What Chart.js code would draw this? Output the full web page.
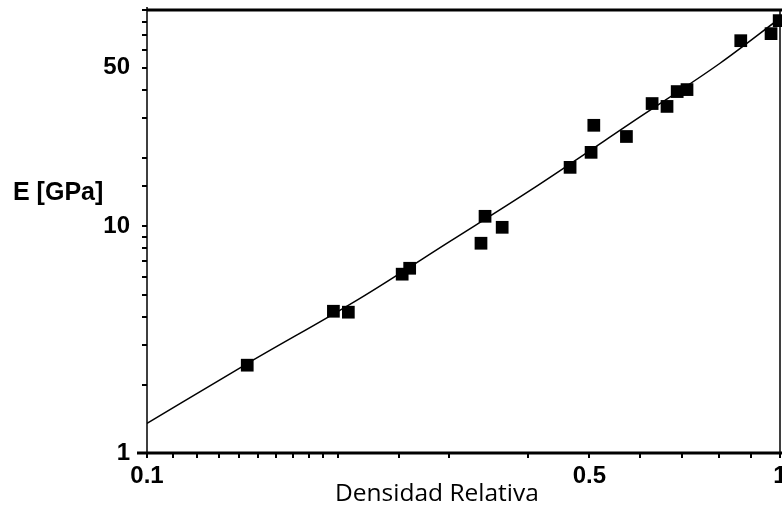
<!DOCTYPE html>
<html>
<head>
<meta charset="utf-8">
<title>E vs Densidad Relativa</title>
<script src="https://cdn.jsdelivr.net/npm/chart.js@4.4.1/dist/chart.umd.min.js"></script>
<style>
  html, body { margin: 0; padding: 0; background: #fff; }
  #chart-box { width: 782px; height: 505px; }
</style>
</head>
<body>
<div id="chart-box"><canvas id="modulus-chart" width="782" height="505"></canvas></div>
<script>
// --------------- datos --------------- //

// densidad relativa de cada probeta
const density = [0.144, 0.197, 0.208, 0.253, 0.260, 0.337, 0.342, 0.364, 0.466, 0.503,
  0.508, 0.572, 0.628, 0.663, 0.688, 0.713, 0.867, 0.968, 0.997];
// modulo E medido [GPa]
const modulus = [2.44, 4.22, 4.18, 6.15, 6.53, 8.42, 11.07, 9.9, 18.2, 21.2,
  27.9, 24.9, 34.8, 33.8, 39.3, 40.1, 65.9, 70.8, 80.8];

// curva de ajuste
const fitDensity = [0.1, 0.144, 0.217, 0.301, 0.403, 0.6, 0.804, 1];
const fitModulus = [1.35, 2.48, 4.81, 8.58, 14.4, 30.3, 52.4, 82.8];

// etiquetas visibles en los ejes
const xTickLabels = [0.1, 0.5, 1];
const yTickLabels = [1, 10, 50];

const xTitle = 'Densidad Relativa';
const yTitle = 'E [GPa]';

// --------------- chart --------------- //

const tickFont = { family: 'Liberation Sans', size: 24, weight: 'bold' };

function pickLabel(list) {
  return (value) => {
    const hit = list.find(t => Math.abs(t - value) < 1e-9);
    return hit === undefined ? '' : String(hit);
  };
}

// sin margenes extra por las etiquetas de los extremos
function noEdgePadding(scale) {
  scale.paddingLeft = 0;
  scale.paddingRight = 0;
  scale.paddingTop = 0;
  scale.paddingBottom = 0;
}

// marco y titulos de ejes
const framePlugin = {
  id: 'frame',
  beforeDatasetsDraw(chart) {
    const { ctx, chartArea: a } = chart;
    ctx.save();
    ctx.strokeStyle = '#000';
    ctx.lineWidth = 3;
    ctx.beginPath();
    ctx.moveTo(a.left, a.top);
    ctx.lineTo(chart.width, a.top);
    ctx.moveTo(a.left - 10, a.bottom);
    ctx.lineTo(chart.width, a.bottom);
    ctx.stroke();

    ctx.lineWidth = 1.5;
    ctx.beginPath();
    ctx.moveTo(a.left, a.top - 3);
    ctx.lineTo(a.left, a.bottom + 3);
    ctx.moveTo(a.right, a.top);
    ctx.lineTo(a.right, a.bottom);
    ctx.stroke();

    ctx.fillStyle = '#000';
    ctx.textBaseline = 'alphabetic';
    ctx.textAlign = 'left';
    ctx.font = 'bold 25px "Liberation Sans"';
    ctx.fillText(yTitle, 13, 200);
    ctx.font = '24.5px "Open Sans"';
    ctx.fillText(xTitle, 335, 501);
    ctx.restore();
  }
};

const modulusData = {
  datasets: [{
    label: 'Ajuste',
    data: fitDensity.map((x, i) => ({ x: x, y: fitModulus[i] })),
    showLine: true,
    borderColor: '#000',
    borderWidth: 1.5,
    pointRadius: 0,
    cubicInterpolationMode: 'monotone',
    order: 2,
  }, {
    label: 'Ensayos',
    data: density.map((x, i) => ({ x: x, y: modulus[i] })),
    pointStyle: 'rect',
    pointRadius: 9,
    backgroundColor: '#000',
    borderColor: '#000',
    borderWidth: 0,
    clip: false,
    order: 1,
  }]
};

const modulusOptions = {
  responsive: false,
  animation: false,
  layout: {
    autoPadding: false,
    padding: { top: 10, right: 2, left: 0, bottom: 0 }
  },
  plugins: {
    legend: { display: false },
    tooltip: { enabled: false },
  },
  scales: {
    x: {
      type: 'logarithmic',
      min: 0.1,
      max: 1,
      afterFit(scale) {
        scale.height = 52;
        noEdgePadding(scale);
      },
      border: { display: false },
      grid: { drawOnChartArea: false, tickLength: 5, color: '#000', lineWidth: 2 },
      ticks: {
        autoSkip: false,
        maxRotation: 0,
        padding: 4,
        color: '#000',
        font: tickFont,
        callback: pickLabel(xTickLabels),
      }
    },
    y: {
      type: 'logarithmic',
      min: 1,
      max: 90,
      afterFit(scale) {
        scale.width = 147;
        noEdgePadding(scale);
      },
      border: { display: false },
      grid: { drawOnChartArea: false, tickLength: 5, color: '#000', lineWidth: 2 },
      ticks: {
        autoSkip: false,
        padding: 12,
        color: '#000',
        font: tickFont,
        callback: pickLabel(yTickLabels),
      }
    }
  }
};

const modulusChart = new Chart(
  document.getElementById('modulus-chart'),
  { type: 'scatter', data: modulusData, plugins: [framePlugin], options: modulusOptions }
);
</script>
</body>
</html>
